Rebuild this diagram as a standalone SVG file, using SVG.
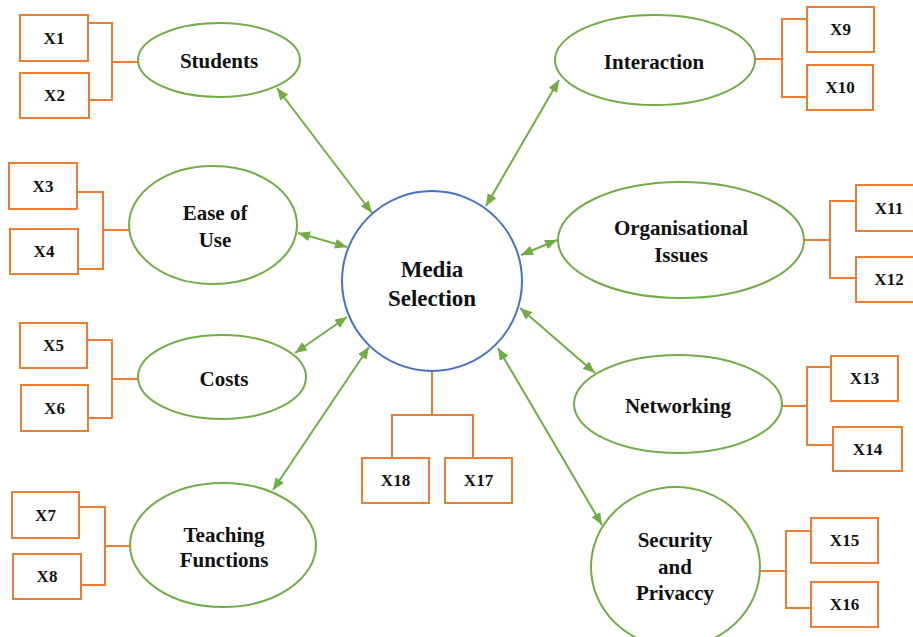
<svg xmlns="http://www.w3.org/2000/svg" width="913" height="637" viewBox="0 0 913 637">
<defs>
<style>
.bg{fill:#ffffff}
.lat{fill:#ffffff;stroke:#70AD47;stroke-width:2}
.ctr{fill:#ffffff;stroke:#4472C4;stroke-width:2}
.box{fill:#ffffff;stroke:#ED7D31;stroke-width:2}
.br{fill:none;stroke:#ED7D31;stroke-width:2}
.arr{fill:none;stroke:#70AD47;stroke-width:2;marker-start:url(#ah);marker-end:url(#ah)}
.t{font-family:"Liberation Serif","Times New Roman",serif;font-weight:bold;font-size:21px;fill:#111111;text-anchor:middle}
.tc{font-size:23px}
.tb{font-size:17px}
</style>
<marker id="ah" viewBox="0 0 12 10" refX="12" refY="5" markerWidth="12" markerHeight="10" markerUnits="userSpaceOnUse" orient="auto-start-reverse">
<path d="M0,0 L12,5 L0,10 z" fill="#70AD47"/>
</marker>
</defs>
<rect class="bg" x="0" y="0" width="913" height="637"/>

<g id="connectors">
<line class="arr" x1="277" y1="88" x2="372" y2="213"/>
<line class="arr" x1="298" y1="233" x2="347" y2="247"/>
<line class="arr" x1="295" y1="353" x2="347" y2="317"/>
<line class="arr" x1="273" y1="490" x2="369" y2="347"/>
<line class="arr" x1="559" y1="80" x2="486" y2="206"/>
<line class="arr" x1="557" y1="240" x2="521" y2="255"/>
<line class="arr" x1="595" y1="373" x2="520" y2="308"/>
<line class="arr" x1="602" y1="525" x2="498" y2="348"/>
<path class="br" d="M88,23 H112 V100 H89 M112,62 H138"/>
<path class="br" d="M77,192 H103 V269 H78 M103,230 H129"/>
<path class="br" d="M87,340 H112 V418 H88 M112,379 H138"/>
<path class="br" d="M79,507 H105 V585 H81 M105,546 H130"/>
<path class="br" d="M807,19 H782 V97 H807 M755,59 H782"/>
<path class="br" d="M856,201 H830 V278 H856 M804,240 H830"/>
<path class="br" d="M831,367 H807 V445 H833 M782,406 H807"/>
<path class="br" d="M811,531 H786 V608 H811 M760,571 H786"/>
<path class="br" d="M432,372 V415 M392,458 V415 H473 V458"/>
</g>

<g id="media-selection">
<circle class="ctr" cx="432" cy="281" r="90"/>
<text class="t tc" x="432" y="277">Media</text>
<text class="t tc" x="432" y="306">Selection</text>
</g>

<g id="students">
<ellipse class="lat" cx="219" cy="60" rx="81" ry="37"/>
<text class="t" x="219" y="68">Students</text>
</g>
<g id="ease-of-use">
<ellipse class="lat" cx="213" cy="225" rx="84" ry="59"/>
<text class="t" x="215" y="220">Ease of</text>
<text class="t" x="215" y="247">Use</text>
</g>
<g id="costs">
<ellipse class="lat" cx="222" cy="377" rx="84" ry="42"/>
<text class="t" x="224" y="386">Costs</text>
</g>
<g id="teaching-functions">
<ellipse class="lat" cx="223" cy="545" rx="93" ry="62"/>
<text class="t" x="224" y="542">Teaching</text>
<text class="t" x="224" y="567">Functions</text>
</g>
<g id="interaction">
<ellipse class="lat" cx="655" cy="60" rx="100" ry="45"/>
<text class="t" x="654" y="69">Interaction</text>
</g>
<g id="organisational-issues">
<ellipse class="lat" cx="681" cy="240" rx="123" ry="58"/>
<text class="t" x="681" y="235">Organisational</text>
<text class="t" x="681" y="262">Issues</text>
</g>
<g id="networking">
<ellipse class="lat" cx="678" cy="404" rx="104" ry="49"/>
<text class="t" x="678" y="413">Networking</text>
</g>
<g id="security-privacy">
<ellipse class="lat" cx="675.5" cy="567" rx="84.5" ry="80"/>
<text class="t" x="675" y="547">Security</text>
<text class="t" x="675" y="574">and</text>
<text class="t" x="675" y="600">Privaccy</text>
</g>

<g id="x1"><rect class="box" x="20" y="15" width="68" height="46"/><text class="t tb" x="54" y="44">X1</text></g>
<g id="x2"><rect class="box" x="20" y="73" width="69" height="45"/><text class="t tb" x="54.5" y="101">X2</text></g>
<g id="x3"><rect class="box" x="9" y="163" width="68" height="46"/><text class="t tb" x="43" y="192">X3</text></g>
<g id="x4"><rect class="box" x="10" y="229" width="68" height="45"/><text class="t tb" x="44" y="257">X4</text></g>
<g id="x5"><rect class="box" x="20" y="323" width="67" height="45"/><text class="t tb" x="53.5" y="351">X5</text></g>
<g id="x6"><rect class="box" x="21" y="385" width="67" height="46"/><text class="t tb" x="54.5" y="414">X6</text></g>
<g id="x7"><rect class="box" x="12" y="492" width="67" height="46"/><text class="t tb" x="45.5" y="521">X7</text></g>
<g id="x8"><rect class="box" x="13" y="554" width="68" height="45"/><text class="t tb" x="47" y="582">X8</text></g>
<g id="x9"><rect class="box" x="807" y="7" width="67" height="45"/><text class="t tb" x="840.5" y="35">X9</text></g>
<g id="x10"><rect class="box" x="807" y="65" width="66" height="45"/><text class="t tb" x="840" y="93">X10</text></g>
<g id="x11"><rect class="box" x="856" y="185" width="68" height="46"/><text class="t tb" x="889" y="214">X11</text></g>
<g id="x12"><rect class="box" x="856" y="257" width="68" height="45"/><text class="t tb" x="889" y="285">X12</text></g>
<g id="x13"><rect class="box" x="831" y="356" width="67" height="45"/><text class="t tb" x="864.5" y="384">X13</text></g>
<g id="x14"><rect class="box" x="833" y="427" width="69" height="44"/><text class="t tb" x="867.5" y="455">X14</text></g>
<g id="x15"><rect class="box" x="811" y="518" width="67" height="45"/><text class="t tb" x="844.5" y="546">X15</text></g>
<g id="x16"><rect class="box" x="811" y="582" width="67" height="45"/><text class="t tb" x="844.5" y="610">X16</text></g>
<g id="x18"><rect class="box" x="362" y="458" width="67" height="45"/><text class="t tb" x="395.5" y="486">X18</text></g>
<g id="x17"><rect class="box" x="445" y="458" width="67" height="45"/><text class="t tb" x="478.5" y="486">X17</text></g>
</svg>
